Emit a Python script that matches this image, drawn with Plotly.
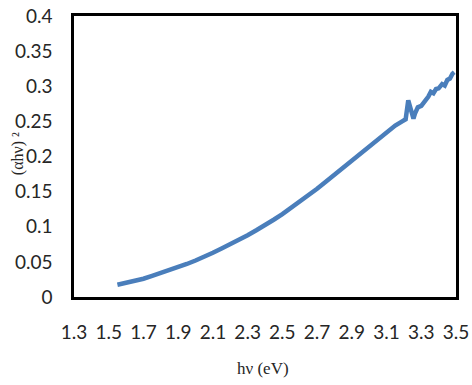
import plotly.graph_objects as go

# Photon energy (eV)
energy = [1.55, 1.60, 1.65, 1.70, 1.75, 1.80, 1.85, 1.90, 1.95, 2.00,
          2.05, 2.10, 2.15, 2.20, 2.25, 2.30, 2.35, 2.40, 2.45, 2.50,
          2.55, 2.60, 2.65, 2.70, 2.75, 2.80, 2.85, 2.90, 2.95, 3.00,
          3.05, 3.10, 3.15, 3.19, 3.21, 3.225, 3.235, 3.245, 3.255, 3.265,
          3.28, 3.30, 3.32, 3.34, 3.355, 3.37, 3.385, 3.40, 3.42, 3.435,
          3.45, 3.465, 3.48, 3.49]
# (alpha h nu)^2
ahv2 = [0.0175, 0.020, 0.023, 0.026, 0.030, 0.034, 0.038, 0.042, 0.047, 0.052,
        0.057, 0.063, 0.069, 0.075, 0.082, 0.088, 0.095, 0.102, 0.110, 0.118,
        0.127, 0.135, 0.144, 0.154, 0.164, 0.174, 0.185, 0.196, 0.205, 0.215,
        0.225, 0.235, 0.244, 0.250, 0.253, 0.280, 0.270, 0.262, 0.254, 0.262,
        0.270, 0.272, 0.278, 0.285, 0.292, 0.290, 0.296, 0.297, 0.303, 0.301,
        0.309, 0.311, 0.318, 0.320]

x_ticks = [1.3, 1.5, 1.7, 1.9, 2.1, 2.3, 2.5, 2.7, 2.9, 3.1, 3.3, 3.5]
y_ticks = [0, 0.05, 0.1, 0.15, 0.2, 0.25, 0.3, 0.35, 0.4]
y_labels = ["0", "0.05", "0.1", "0.15", "0.2", "0.25", "0.3", "0.35", "0.4"]

fig = go.Figure()
fig.add_trace(go.Scatter(
    x=energy, y=ahv2, mode="lines",
    line=dict(color="#4a7ebb", width=4.5),
    hoverinfo="skip", showlegend=False,
))

tick_font = dict(family="Lato, 'Open Sans', sans-serif", size=19, color="#262626")

fig.update_layout(
    width=472, height=385,
    margin=dict(l=74, r=16, t=16, b=88),
    paper_bgcolor="white", plot_bgcolor="white",
    xaxis=dict(
        range=[1.3, 3.5], tickvals=x_ticks, ticktext=[f"{v:.1f}" for v in x_ticks],
        showgrid=False, zeroline=False, showline=True, mirror=True,
        linecolor="black", linewidth=2.5, ticks="", tickfont=tick_font,
        ticklabelstandoff=16, automargin=False,
    ),
    yaxis=dict(
        range=[0, 0.4], tickvals=y_ticks, ticktext=y_labels,
        showgrid=False, zeroline=False, showline=True, mirror=True,
        linecolor="black", linewidth=2.5, ticks="", tickfont=tick_font,
        ticklabelstandoff=15, automargin=False,
    ),
    annotations=[
        dict(
            text="(αhν) ²", textangle=-90, showarrow=False,
            xref="paper", yref="paper", x=-0.148, y=0.51,
            xanchor="center", yanchor="middle",
            font=dict(family="Liberation Serif, serif", size=16, color="#262626"),
        ),
        dict(
            text="hν (eV)", showarrow=False,
            xref="paper", yref="paper", x=0.495, y=-0.255,
            xanchor="center", yanchor="middle",
            font=dict(family="Liberation Serif, serif", size=17, color="#262626"),
        ),
    ],
)

fig.write_html(
    "out.html",
    config={"displayModeBar": False},
    post_script="document.body.style.margin='0';document.body.style.padding='0';window.dispatchEvent(new Event('resize'));",
)
